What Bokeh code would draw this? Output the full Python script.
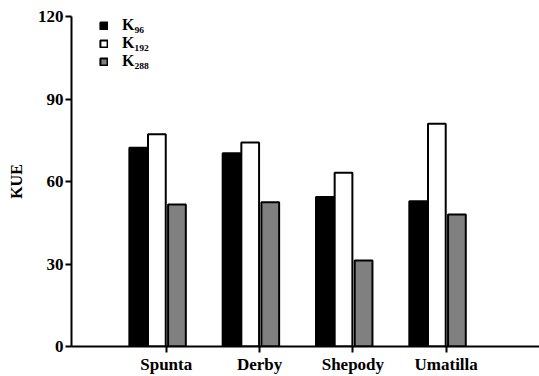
from bokeh.plotting import figure
from bokeh.models import ColumnDataSource, Legend, LegendItem, FixedTicker
from bokeh.transform import dodge
from bokeh.embed import file_html
from bokeh.resources import INLINE

cultivars = ["Spunta", "Derby", "Shepody", "Umatilla"]
positions = [1, 2, 3, 4]
k96 = [72.3, 70.3, 54.4, 52.8]
k192 = [77.2, 74.2, 63.2, 81.0]
k288 = [51.6, 52.5, 31.3, 48.0]
series_labels = ["K\u2089\u2086", "K\u2081\u2089\u2082", "K\u2082\u2088\u2088"]

src = ColumnDataSource(dict(x=positions, k96=k96, k192=k192, k288=k288))

FONT = "'Liberation Serif', 'Times New Roman', serif"

p = figure(width=539, height=376, x_range=(-0.015, 5.0), y_range=(0, 120),
           output_backend="svg", toolbar_location=None,
           min_border_left=71, min_border_right=0, min_border_top=16, min_border_bottom=30)
p.outline_line_color = None
p.xgrid.visible = False
p.ygrid.visible = False
p.background_fill_color = "white"
p.border_fill_color = "white"

w = 0.19
r1 = p.vbar(x=dodge("x", -0.30), top="k96", width=w, source=src,
            fill_color="black", line_color="black", line_width=2)
r2 = p.vbar(x=dodge("x", -0.10), top="k192", width=w, source=src,
            fill_color="white", line_color="black", line_width=2)
r3 = p.vbar(x=dodge("x", 0.115), top="k288", width=w, source=src,
            fill_color="#808080", line_color="black", line_width=2)

for ax in (p.xaxis[0], p.yaxis[0]):
    ax.axis_line_width = 2
    ax.axis_line_color = "black"
    ax.major_tick_line_width = 2
    ax.major_tick_line_color = "black"
    ax.major_tick_out = 6
    ax.major_tick_in = 0
    ax.minor_tick_line_color = None
    ax.major_label_text_font = FONT
    ax.major_label_text_font_style = "bold"
    ax.major_label_text_font_size = "17px"
    ax.major_label_text_color = "black"

p.xaxis[0].ticker = FixedTicker(ticks=positions)
p.xaxis[0].major_label_overrides = {pos: name for pos, name in zip(positions, cultivars)}
p.xaxis[0].major_label_standoff = 2
p.yaxis[0].ticker = FixedTicker(ticks=[0, 30, 60, 90, 120])
p.yaxis[0].major_label_standoff = 2
p.yaxis[0].axis_label = "KUE"
p.yaxis[0].axis_label_text_font = FONT
p.yaxis[0].axis_label_text_font_style = "bold"
p.yaxis[0].axis_label_text_font_size = "16px"
p.yaxis[0].axis_label_text_color = "black"
p.yaxis[0].axis_label_standoff = 10

legend = Legend(items=[LegendItem(label=series_labels[0], renderers=[r1]),
                       LegendItem(label=series_labels[1], renderers=[r2]),
                       LegendItem(label=series_labels[2], renderers=[r3])],
                location=(28, 276), margin=0, padding=0, spacing=0,
                glyph_width=9, glyph_height=9, label_height=18,
                label_standoff=14, border_line_color=None,
                background_fill_alpha=0,
                label_text_font=FONT, label_text_font_style="bold",
                label_text_font_size="16px", label_text_color="black")
p.add_layout(legend)

open("out.html", "w").write(file_html(p, INLINE))
